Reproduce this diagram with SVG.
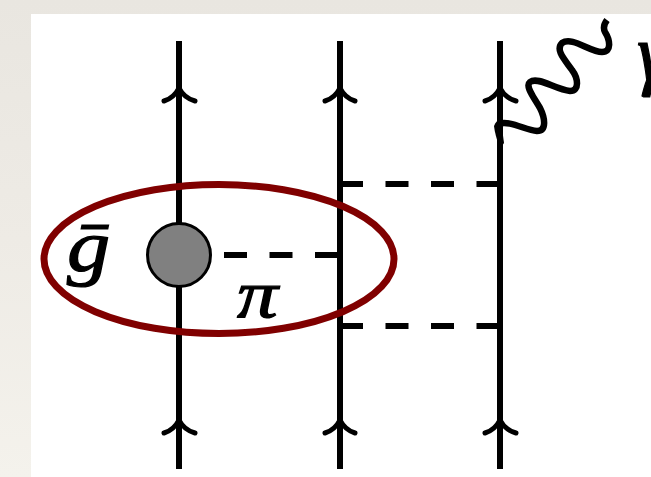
<svg xmlns="http://www.w3.org/2000/svg" width="651" height="477" viewBox="0 0 651 477">
<style>
.l{stroke:#000;stroke-width:6;fill:none}
.d{stroke:#000;stroke-width:6;fill:none;stroke-dasharray:23 22.5}
.a{stroke:#000;stroke-width:5;fill:none;stroke-linecap:round}
.t{font-family:"Liberation Serif",serif;font-style:italic;fill:#000;stroke:#000;stroke-width:1.2}
</style>
<defs><linearGradient id="bg" x1="0" y1="0" x2="0" y2="1"><stop offset="0" stop-color="#e9e6e0"/><stop offset="0.5" stop-color="#eeebe5"/><stop offset="1" stop-color="#f4f2ec"/></linearGradient></defs>
<rect width="651" height="477" fill="url(#bg)"/>
<rect x="31" y="14" width="620" height="463" fill="#fff"/>
<g id="connectors">
<path class="l" d="M179 41V469M340 41V469M500 41V469"/>
<path class="a" d="M164 101Q174 98 179 88Q184 98 195 101M325 101Q335 98 340 88Q345 98 355 101M485 101Q495 98 500 88Q505 98 516 101"/>
<path class="a" d="M164 433Q174 430 179 420Q184 430 195 433M325 433Q335 430 340 420Q345 430 355 433M485 433Q495 430 500 420Q505 430 516 433"/>
<path class="d" d="M224 255H340M340 184H500M340 326H500"/>
<path d="M498 124C510 120 525 130 537 131C547 131 545 118 540 108C533 96 525 86 530 82C538 76 556 90 570 91C580 91 578 78 572 70C565 60 555 50 562 43C572 36 590 52 602 52C612 52 610 40 605 32C603 28 604 24 607 20" fill="none" stroke="#000" stroke-width="6.5"/>
<path d="M494 126Q497 119 501 121L504 143L500 149Q495 135 494 126Z" fill="#000"/>
</g>
<g id="vertex"><circle cx="179" cy="255" r="31.5" fill="#808080" stroke="#000" stroke-width="3"/></g>
<g id="loop"><ellipse cx="219" cy="259" rx="175" ry="74.5" fill="none" stroke="#800000" stroke-width="7"/></g>
<g id="label-g"><text class="t" transform="translate(67 271) scale(1.15 1)" font-size="75">ḡ</text></g>
<g id="label-pi"><text class="t" transform="translate(237 317) scale(1.2 1)" font-size="68">π</text></g>
<g id="label-gamma"><text class="t" x="637" y="80" font-size="80">γ</text></g>
</svg>
